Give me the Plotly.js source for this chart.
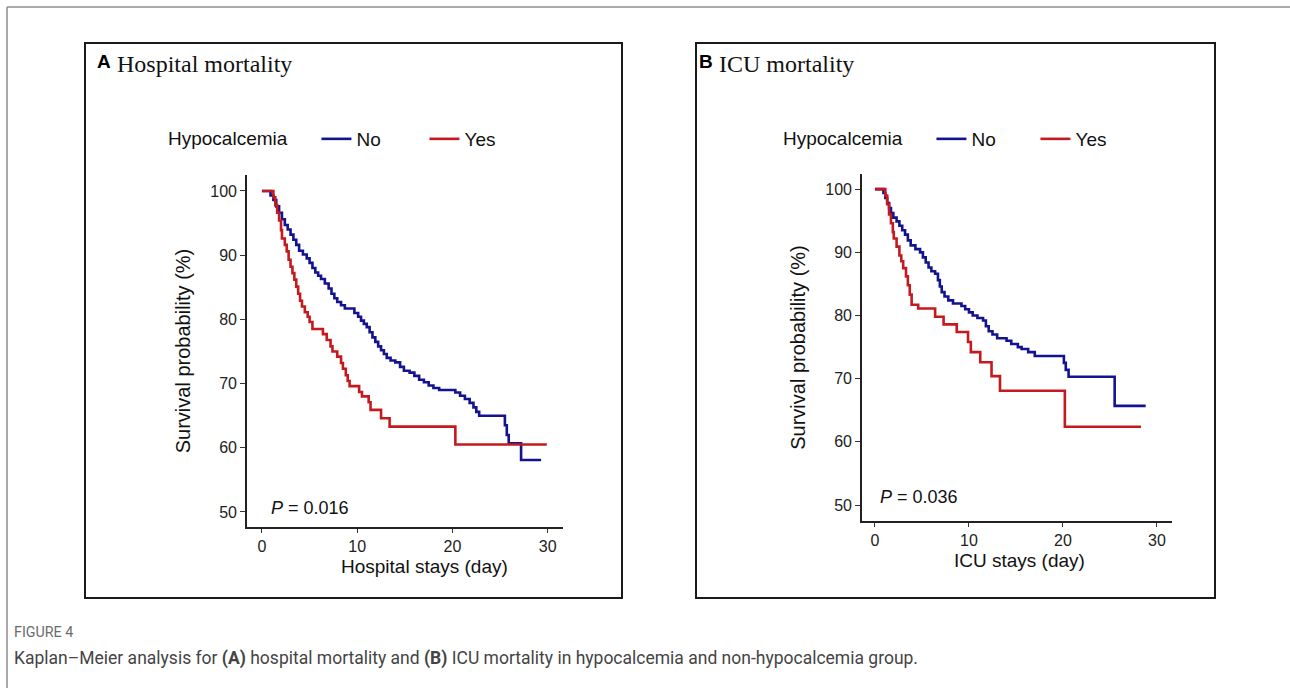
<!DOCTYPE html>
<html>
<head>
<meta charset="utf-8">
<script src="https://cdn.plot.ly/plotly-3.0.1.min.js"></script>
<style>
  html, body { margin: 0; padding: 0; background: #ffffff; }
  #chart { width: 1290px; height: 688px; }
</style>
</head>
<body>
<div id="chart"></div>
<script>
// ---------- data ----------
// Panel A: hospital mortality
const hospDaysNo = [0, 0.9, 1.2, 1.5, 1.8, 2.1, 2.4, 2.7, 3.0, 3.3, 3.6, 3.9, 4.3, 4.7, 5.0, 5.3, 5.6, 5.9, 6.2, 6.6, 7.0, 7.3, 7.6, 7.9, 8.3, 8.7, 9.7, 10.1, 10.4, 10.7, 11.0, 11.3, 11.6, 11.9, 12.2, 12.5, 12.8, 13.1, 13.5, 14.0, 14.5, 14.9, 15.5, 16.0, 16.5, 17.0, 17.5, 18.0, 18.6, 20.3, 20.8, 21.3, 21.8, 22.2, 22.5, 22.8, 25.5, 25.7, 25.9, 27.2, 29.3];
const hospSurvNo = [100, 99.3, 98.6, 97.6, 96.6, 95.6, 94.7, 94.0, 93.2, 92.4, 91.6, 90.7, 90.1, 89.5, 88.8, 88.0, 87.3, 86.8, 86.3, 85.6, 84.8, 84.0, 83.3, 82.7, 82.2, 81.7, 81.0, 80.4, 79.8, 79.3, 78.8, 78.0, 77.2, 76.5, 75.8, 75.2, 74.6, 74.0, 73.6, 73.3, 72.6, 72.0, 71.7, 71.2, 70.6, 70.2, 69.7, 69.3, 69.0, 68.6, 68.1, 67.6, 67.0, 66.3, 65.6, 65.0, 63.5, 62.0, 60.7, 58.1, 58.1];
const hospDaysYes = [0, 1.2, 1.4, 1.6, 1.8, 2.0, 2.1, 2.4, 2.6, 2.8, 3.0, 3.2, 3.4, 3.6, 3.8, 4.0, 4.2, 4.5, 4.8, 5.0, 5.3, 6.4, 6.8, 7.2, 7.4, 7.9, 8.3, 8.5, 8.8, 9.0, 9.2, 10.2, 10.5, 11.2, 11.4, 12.5, 13.4, 20.3, 29.9];
const hospSurvYes = [100, 99.0, 97.8, 96.6, 95.4, 93.9, 92.6, 91.6, 90.6, 89.3, 88.2, 87.2, 86.2, 85.1, 84.0, 82.9, 82.0, 81.1, 80.4, 79.6, 78.5, 77.7, 76.8, 75.8, 75.0, 74.2, 73.2, 72.3, 71.3, 70.4, 69.6, 68.7, 68.0, 67.1, 65.9, 64.6, 63.3, 60.5, 60.5];

// Panel B: ICU mortality
const icuDaysNo = [0, 0.9, 1.1, 1.3, 1.5, 1.7, 1.95, 2.3, 2.6, 2.9, 3.2, 3.5, 3.8, 4.3, 4.8, 5.1, 5.4, 5.7, 6.0, 6.4, 6.7, 6.9, 7.1, 7.4, 7.8, 8.3, 9.2, 9.6, 10.0, 10.4, 10.9, 11.5, 11.8, 12.1, 12.5, 13.0, 14.0, 14.5, 15.2, 15.6, 16.3, 17.0, 20.1, 20.3, 20.6, 25.5, 28.8];
const icuSurvNo = [100, 99.4, 98.6, 97.8, 97.0, 96.2, 95.5, 94.9, 94.2, 93.5, 92.8, 91.9, 91.1, 90.5, 90.0, 89.2, 88.4, 87.6, 87.0, 86.6, 85.6, 84.6, 83.7, 83.0, 82.4, 81.9, 81.5, 81.0, 80.5, 80.0, 79.6, 79.2, 78.3, 77.5, 77.0, 76.4, 76.0, 75.5, 75.0, 74.7, 74.2, 73.6, 72.5, 71.4, 70.3, 65.7, 65.7];
const icuDaysYes = [0, 1.1, 1.3, 1.5, 1.7, 1.9, 2.0, 2.3, 2.6, 2.8, 3.0, 3.3, 3.5, 3.7, 3.9, 4.6, 6.4, 7.3, 8.7, 9.9, 10.2, 11.2, 12.4, 13.3, 20.2, 28.3];
const icuSurvYes = [100, 99.0, 97.6, 96.0, 94.6, 93.2, 92.2, 90.9, 89.5, 88.6, 87.5, 86.2, 84.8, 83.3, 81.7, 81.1, 79.8, 78.6, 77.4, 75.8, 74.2, 72.6, 70.4, 68.1, 62.4, 62.4];

const groupNames = ["No", "Yes"];
const legendTitle = "Hypocalcemia";
const xTickVals = [0, 10, 20, 30];
const yTickVals = [50, 60, 70, 80, 90, 100];
const panelTitles = ["Hospital mortality", "ICU mortality"];
const panelLetters = ["A", "B"];
const xTitles = ["Hospital stays (day)", "ICU stays (day)"];
const yTitle = "Survival probability (%)";
const pValues = ["0.016", "0.036"];
const figLabel = "FIGURE 4";
const caption = "Kaplan\u2013Meier analysis for <b>(A)</b> hospital mortality and <b>(B)</b> ICU mortality in hypocalcemia and non-hypocalcemia group.";

// ---------- styling ----------
const W = 1290, H = 688;
const X = p => p / W;
const Y = p => 1 - p / H;
const BLUE = "#13138f";
const RED = "#c41a1f";
const SANS = "Liberation Sans, Arial, sans-serif";
const SERIF = "Liberation Serif, Times New Roman, serif";
const GAP = "\u00a0\u00a0\u00a0\u00a0";

function kmTrace(x, y, name, color, xa, ya, legend) {
  return {
    type: "scatter", mode: "lines", x: x, y: y, name: name,
    line: { color: color, width: 2.6, shape: "hv" },
    xaxis: xa, yaxis: ya, legend: legend, showlegend: true,
    hovertemplate: name + ": %{y:.1f}%<extra></extra>"
  };
}

const traces = [
  kmTrace(hospDaysNo, hospSurvNo, groupNames[0], BLUE, "x", "y", "legend"),
  kmTrace(hospDaysYes, hospSurvYes, groupNames[1], RED, "x", "y", "legend"),
  kmTrace(icuDaysNo, icuSurvNo, groupNames[0], BLUE, "x2", "y2", "legend2"),
  kmTrace(icuDaysYes, icuSurvYes, groupNames[1], RED, "x2", "y2", "legend2")
];

function xAxis(domain, range, anchor) {
  return {
    domain: domain, range: range, anchor: anchor,
    tickvals: xTickVals, ticks: "outside", ticklen: 4, tickwidth: 1.3, tickcolor: "#333",
    showline: true, linecolor: "#222", linewidth: 1.6, showgrid: false, zeroline: false,
    tickfont: { family: SANS, size: 16, color: "#222" }, fixedrange: true
  };
}
function yAxis(domain, range, anchor) {
  return {
    domain: domain, range: range, anchor: anchor,
    tickvals: yTickVals, ticks: "outside", ticklen: 5, tickwidth: 1.3, tickcolor: "#333",
    showline: true, linecolor: "#222", linewidth: 1.6, showgrid: false, zeroline: false,
    tickfont: { family: SANS, size: 16, color: "#222" }, fixedrange: true,
    title: { text: yTitle, font: { family: SANS, size: 20, color: "#111" }, standoff: 14 }
  };
}

function legendCfg(xpx, ypx, ew) {
  return {
    x: X(xpx), y: Y(ypx), xanchor: "left", yanchor: "middle",
    orientation: "h", bgcolor: "rgba(0,0,0,0)", borderwidth: 0,
    font: { family: SANS, size: 19, color: "#111" },
    title: { text: legendTitle + GAP, side: "left", font: { family: SANS, size: 19, color: "#111" } },
    entrywidth: ew, itemwidth: 30, tracegroupgap: 0
  };
}

const ann = [];
// panel headings
ann.push({ text: "<b>" + panelLetters[0] + "</b>", x: X(95), y: Y(62), xref: "paper", yref: "paper", xanchor: "left", yanchor: "middle", showarrow: false, font: { family: SANS, size: 19, color: "#000" } });
ann.push({ text: panelTitles[0], x: X(115), y: Y(64), xref: "paper", yref: "paper", xanchor: "left", yanchor: "middle", showarrow: false, font: { family: SERIF, size: 24, color: "#111" } });
ann.push({ text: "<b>" + panelLetters[1] + "</b>", x: X(697), y: Y(62), xref: "paper", yref: "paper", xanchor: "left", yanchor: "middle", showarrow: false, font: { family: SANS, size: 19, color: "#000" } });
ann.push({ text: panelTitles[1], x: X(717), y: Y(64), xref: "paper", yref: "paper", xanchor: "left", yanchor: "middle", showarrow: false, font: { family: SERIF, size: 24, color: "#111" } });
// x-axis titles
ann.push({ text: xTitles[0], x: X(425), y: Y(566), xref: "paper", yref: "paper", xanchor: "center", yanchor: "middle", showarrow: false, font: { family: SANS, size: 19, color: "#111" } });
ann.push({ text: xTitles[1], x: X(1019), y: Y(560), xref: "paper", yref: "paper", xanchor: "center", yanchor: "middle", showarrow: false, font: { family: SANS, size: 19, color: "#111" } });
// p-values
ann.push({ text: "<i>P</i> = " + pValues[0], x: X(269), y: Y(508), xref: "paper", yref: "paper", xanchor: "left", yanchor: "middle", showarrow: false, font: { family: SANS, size: 18, color: "#111" } });
ann.push({ text: "<i>P</i> = " + pValues[1], x: X(878), y: Y(497), xref: "paper", yref: "paper", xanchor: "left", yanchor: "middle", showarrow: false, font: { family: SANS, size: 18, color: "#111" } });
// caption
ann.push({ text: figLabel, x: X(12), y: Y(632), xref: "paper", yref: "paper", xanchor: "left", yanchor: "middle", showarrow: false, font: { family: "Roboto, sans-serif", size: 14.3, color: "#6b6b6b" } });
ann.push({ text: caption, x: X(12), y: Y(658), xref: "paper", yref: "paper", xanchor: "left", yanchor: "middle", showarrow: false, font: { family: "Roboto, sans-serif", size: 17.5, color: "#444" } });

const shapes = [
  { type: "line", xref: "paper", yref: "paper", x0: X(7), x1: X(1290), y0: Y(7), y1: Y(7), line: { color: "#8c8c8c", width: 1.5 } },
  { type: "line", xref: "paper", yref: "paper", x0: X(7), x1: X(7), y0: Y(7), y1: Y(688), line: { color: "#8c8c8c", width: 1.5 } },
  { type: "rect", xref: "paper", yref: "paper", x0: X(85), x1: X(622), y0: Y(43), y1: Y(598), line: { color: "#1a1a1a", width: 2 } },
  { type: "rect", xref: "paper", yref: "paper", x0: X(696), x1: X(1215), y0: Y(43), y1: Y(598), line: { color: "#1a1a1a", width: 2 } }
];

const layout = {
  width: W, height: H,
  margin: { l: 0, r: 0, t: 0, b: 0 },
  paper_bgcolor: "#ffffff", plot_bgcolor: "#ffffff",
  showlegend: true,
  xaxis: xAxis([X(247), X(563)], [-1.57, 31.6], "y"),
  yaxis: yAxis([Y(527), Y(175)], [47.66, 102.49], "x"),
  xaxis2: xAxis([X(862), X(1172)], [-1.38, 31.6], "y2"),
  yaxis2: yAxis([Y(521), Y(174)], [47.47, 102.4], "x2"),
  legend: legendCfg(166, 139, 63),
  legend2: legendCfg(781, 139, 59),
  annotations: ann,
  shapes: shapes,
  hovermode: "closest"
};

Plotly.newPlot("chart", traces, layout, { displayModeBar: false, responsive: false });
</script>
</body>
</html>
